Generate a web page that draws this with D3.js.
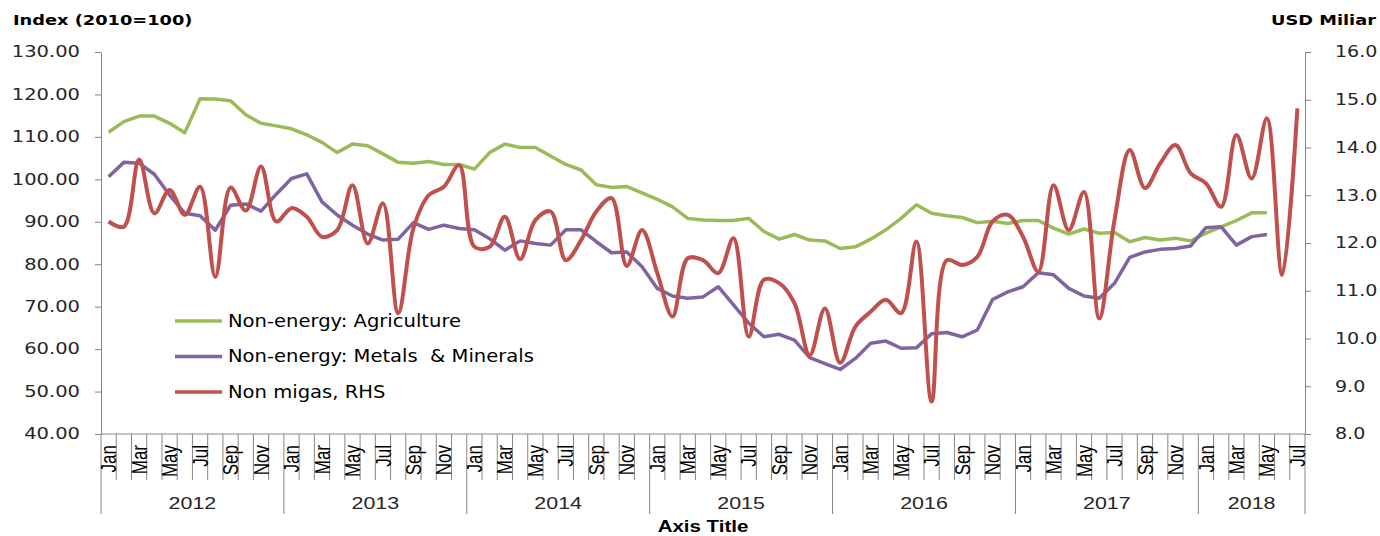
<!DOCTYPE html>
<html>
<head>
<meta charset="utf-8">
<script src="https://cdn.jsdelivr.net/npm/d3@7"></script>
<style>
    body { margin: 0; background: #fff; }
    svg { display: block; }
</style>
</head>
<body>
<div id="chart"></div>
<script>
    var monthNames = ["Jan", "Feb", "Mar", "Apr", "May", "Jun", "Jul", "Aug", "Sep", "Oct", "Nov", "Dec"];
    var years = [2012, 2013, 2014, 2015, 2016, 2017, 2018];
    var monthsInYear = [12, 12, 12, 12, 12, 12, 7];

    var leftTicks = [40, 50, 60, 70, 80, 90, 100, 110, 120, 130];
    var rightTicks = [8, 9, 10, 11, 12, 13, 14, 15, 16];

    // Non-energy: Agriculture (Index 2010=100), Jan 2012 .. May 2018
    var agriculture = [
        111.1, 113.6, 114.9, 114.9, 113.2, 111.0, 119.0, 118.9, 118.5, 115.2, 113.2, 112.6,
        111.9, 110.5, 108.7, 106.3, 108.3, 107.9, 106.0, 104.0, 103.8, 104.2, 103.5, 103.5,
        102.4, 106.3, 108.3, 107.5, 107.5, 105.5, 103.5, 102.2, 98.7, 98.1, 98.3, 96.8,
        95.3, 93.5, 90.8, 90.4, 90.3, 90.3, 90.8, 87.7, 85.9, 87.0, 85.7, 85.5,
        83.7, 84.1, 85.9, 88.1, 90.8, 94.0, 92.0, 91.4, 91.0, 89.8, 90.1, 89.6,
        90.3, 90.3, 88.5, 87.1, 88.3, 87.3, 87.5, 85.3, 86.3, 85.7, 86.1, 85.5,
        87.3, 88.8, 90.3, 92.1, 92.1, null, null
    ];

    // Non-energy: Metals & Minerals (Index 2010=100)
    var metals = [
        100.6, 104.0, 103.8, 101.2, 96.3, 92.0, 91.4, 88.0, 93.9, 94.2, 92.5, 96.5,
        100.2, 101.3, 94.7, 91.6, 89.2, 87.1, 85.7, 85.9, 89.8, 88.2, 89.2, 88.4,
        88.1, 86.0, 83.3, 85.5, 84.9, 84.5, 88.1, 88.1, 85.3, 82.7, 82.9, 79.4,
        74.3, 72.5, 72.0, 72.3, 74.7, 70.4, 66.1, 62.9, 63.5, 62.1, 58.0, 56.6,
        55.2, 57.8, 61.4, 61.9, 60.2, 60.3, 63.6, 63.9, 62.9, 64.5, 71.7, 73.5,
        74.7, 78.0, 77.5, 74.3, 72.5, 72.0, 75.5, 81.6, 82.9, 83.5, 83.7, 84.3,
        88.6, 88.8, 84.5, 86.5, 87.0, null, null
    ];

    // Non migas (USD Miliar, RHS)
    var nonMigas = [
        12.45, 12.34, 13.75, 12.62, 13.11, 12.59, 13.18, 11.29, 13.16, 12.68, 13.60, 12.45,
        12.73, 12.55, 12.13, 12.27, 13.21, 11.99, 12.83, 10.53, 12.31, 13.00, 13.18, 13.63,
        11.92, 11.92, 12.55, 11.66, 12.48, 12.66, 11.64, 12.06, 12.66, 12.94, 11.52, 12.27,
        11.37, 10.46, 11.68, 11.64, 11.37, 12.10, 10.04, 11.23, 11.16, 10.74, 9.65, 10.63,
        9.49, 10.25, 10.56, 10.81, 10.53, 12.03, 8.68, 11.64, 11.54, 11.71, 12.45, 12.59,
        12.13, 11.40, 13.21, 12.27, 13.07, 10.42, 12.48, 13.95, 13.15, 13.67, 14.05, 13.46,
        13.25, 12.76, 14.26, 13.35, 14.61, 11.33, 14.82
    ];

    var seriesNames = ["Non-energy: Agriculture", "Non-energy: Metals  & Minerals", "Non migas, RHS"];
    var seriesColors = ["#9BBB59", "#8064A2", "#C0504D"];

    var months = [];
    years.forEach(function (y, yi) {
        for (var m = 0; m < monthsInYear[yi]; m++) {
            months.push({ year: y, month: monthNames[m], key: y + "-" + m });
        }
    });

    var width = 1380,
        height = 536;
    var margin = { left: 101, right: 75, top: 52, bottom: 102 };
    var plotW = width - margin.left - margin.right;
    var plotH = height - margin.top - margin.bottom;

    // the source picture is wider than its fonts, so stretch text horizontally
    var stretch = function (sel, k) {
        sel.each(function () {
            var len = this.getComputedTextLength();
            d3.select(this)
                .attr("textLength", len * k)
                .attr("lengthAdjust", "spacingAndGlyphs");
        });
    };

    var svg = d3.select("#chart")
        .append("svg")
        .attr("width", width)
        .attr("height", height);

    var g = svg.append("g")
        .attr("transform", "translate(" + margin.left + "," + margin.top + ")");

    var x = d3.scaleBand()
        .domain(months.map(function (d) { return d.key; }))
        .range([0, plotW])
        .padding(0);
    var yL = d3.scaleLinear().domain([40, 130]).range([plotH, 0]);
    var yR = d3.scaleLinear().domain([8, 16]).range([plotH, 0]);

    var axisColor = "#868686";
    var labelFont = "'DejaVu Sans', Verdana, sans-serif";
    var catFont = "'Liberation Sans', Arial, sans-serif";

    // left axis
    var yAxisL = g.append("g")
        .call(d3.axisLeft(yL).tickValues(leftTicks).tickSize(6).tickFormat(d3.format(".2f")));
    yAxisL.select(".domain").attr("stroke", axisColor);
    yAxisL.selectAll(".tick line").attr("stroke", axisColor);
    yAxisL.selectAll(".tick text")
        .attr("x", -21)
        .attr("font-family", labelFont)
        .attr("font-size", "15px")
        .attr("fill", "#262626")
        .call(stretch, 1.3);

    // right axis
    var yAxisR = g.append("g")
        .attr("transform", "translate(" + plotW + ",0)")
        .call(d3.axisRight(yR).tickValues(rightTicks).tickSize(6).tickFormat(d3.format(".1f")));
    yAxisR.select(".domain").attr("stroke", axisColor);
    yAxisR.selectAll(".tick line").attr("stroke", axisColor);
    yAxisR.selectAll(".tick text")
        .attr("x", 30)
        .attr("font-family", labelFont)
        .attr("font-size", "15px")
        .attr("fill", "#262626")
        .call(stretch, 1.27);

    // category axis
    var xg = g.append("g").attr("transform", "translate(0," + plotH + ")");
    xg.append("line")
        .attr("x1", 0).attr("x2", plotW)
        .attr("stroke", axisColor);

    var boundaries = d3.range(months.length + 1);
    var yearStarts = [];
    var acc = 0;
    monthsInYear.forEach(function (n) { yearStarts.push(acc); acc += n; });
    yearStarts.push(acc);

    xg.selectAll("line.mtick")
        .data(boundaries)
        .enter().append("line")
        .attr("class", "mtick")
        .attr("x1", function (k) { return k * x.bandwidth(); })
        .attr("x2", function (k) { return k * x.bandwidth(); })
        .attr("y1", 0)
        .attr("y2", function (k) { return yearStarts.indexOf(k) >= 0 ? 80 : 46; })
        .attr("stroke", axisColor);

    xg.selectAll("text.mlabel")
        .data(months.filter(function (d, i) { return i % 2 === 0; }))
        .enter().append("text")
        .attr("class", "mlabel")
        .attr("transform", function (d) {
            return "translate(" + (x(d.key) + x.bandwidth() / 2) + ",11) scale(1.27,1) rotate(-90)";
        })
        .attr("text-anchor", "end")
        .attr("dy", "0.35em")
        .attr("font-family", catFont)
        .attr("font-size", "17px")
        .attr("fill", "#000")
        .text(function (d) { return d.month; });

    xg.selectAll("text.ylabel")
        .data(years)
        .enter().append("text")
        .attr("class", "ylabel")
        .attr("x", function (d, i) { return (yearStarts[i] + yearStarts[i + 1]) / 2 * x.bandwidth(); })
        .attr("y", 75)
        .attr("text-anchor", "middle")
        .attr("font-family", catFont)
        .attr("font-size", "17px")
        .attr("fill", "#262626")
        .text(function (d) { return d; })
        .call(stretch, 1.26);

    svg.append("text")
        .attr("x", 703)
        .attr("y", 532)
        .attr("text-anchor", "middle")
        .attr("font-family", catFont)
        .attr("font-weight", "bold")
        .attr("font-size", "16px")
        .text("Axis Title")
        .call(stretch, 1.28);

    svg.append("text")
        .attr("x", 13)
        .attr("y", 25)
        .attr("font-family", labelFont)
        .attr("font-weight", "bold")
        .attr("font-size", "14px")
        .text("Index (2010=100)")
        .call(stretch, 1.27);

    svg.append("text")
        .attr("x", 1376)
        .attr("y", 25)
        .attr("text-anchor", "end")
        .attr("font-family", labelFont)
        .attr("font-weight", "bold")
        .attr("font-size", "14px")
        .text("USD Miliar")
        .call(stretch, 1.27);

    // lines
    var cx = function (i) { return x(months[i].key) + x.bandwidth() / 2; };

    var lineL = d3.line()
        .defined(function (d) { return d !== null; })
        .x(function (d, i) { return cx(i); })
        .y(function (d) { return yL(d); });

    var lineR = d3.line()
        .x(function (d, i) { return cx(i); })
        .y(function (d) { return yR(d); })
        .curve(d3.curveCatmullRom.alpha(0.5));

    g.append("path")
        .datum(agriculture)
        .attr("fill", "none")
        .attr("stroke", seriesColors[0])
        .attr("stroke-width", 3.5)
        .attr("stroke-linejoin", "round")
        .attr("d", lineL);

    g.append("path")
        .datum(metals)
        .attr("fill", "none")
        .attr("stroke", seriesColors[1])
        .attr("stroke-width", 3.5)
        .attr("stroke-linejoin", "round")
        .attr("d", lineL);

    g.append("path")
        .datum(nonMigas)
        .attr("fill", "none")
        .attr("stroke", seriesColors[2])
        .attr("stroke-width", 4)
        .attr("stroke-linejoin", "round")
        .attr("d", lineR);

    // legend
    var legend = svg.append("g")
        .attr("transform", "translate(175,321)");

    var rows = legend.selectAll("g.legendRow")
        .data(seriesNames)
        .enter().append("g")
        .attr("class", "legendRow")
        .attr("transform", function (d, i) { return "translate(0," + (i * 35.5) + ")"; });

    rows.append("line")
        .attr("x1", 0).attr("x2", 47)
        .attr("stroke", function (d, i) { return seriesColors[i]; })
        .attr("stroke-width", 3.5);

    rows.append("text")
        .attr("x", 53)
        .attr("dy", "0.35em")
        .attr("font-family", labelFont)
        .attr("font-size", "17px")
        .attr("fill", "#000")
        .style("white-space", "pre")
        .text(function (d) { return d; })
        .call(stretch, 1.15);
</script>
</body>
</html>
